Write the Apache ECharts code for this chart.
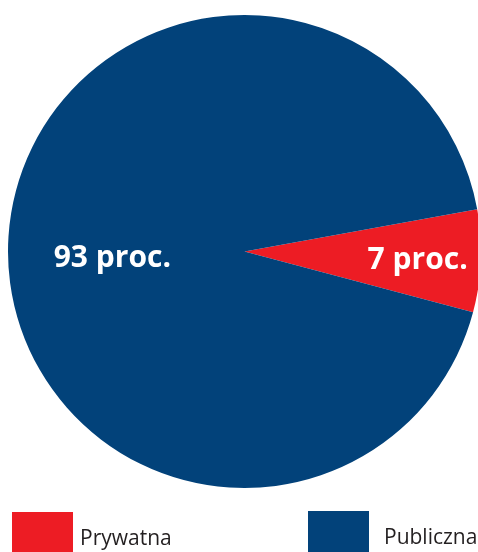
<!DOCTYPE html>
<html>
<head>
<meta charset="utf-8">
<script src="https://cdn.jsdelivr.net/npm/echarts@6/dist/echarts.min.js"></script>
<style>
  html, body { margin: 0; padding: 0; background: #ffffff; }
  #chart { width: 478px; height: 552px; }
</style>
</head>
<body>
<div id="chart"></div>
<script>
// Share of schools by type (percent)
const categories = ['Prywatna', 'Publiczna'];
const values = [7, 93];
const colors = ['#ed1c24', '#02427a'];
const labelSuffix = ' proc.';

const chart = echarts.init(document.getElementById('chart'), null, { renderer: 'canvas' });

const pieData = categories.map((name, i) => ({
  name: name,
  value: values[i],
  itemStyle: { color: colors[i] }
}));

// Shift the in-slice labels toward the rim of the small slice and left in the large one
const labelShift = [
  { dx: 52, dy: 4 },
  { dx: -11, dy: 12 }
];

// Legend text sits a little below the middle of its swatch
const legendText = (leftPad) => ({
  color: '#231f20',
  fontSize: 21,
  fontFamily: 'Open Sans',
  rich: {
    t: { color: '#231f20', fontSize: 21, fontFamily: 'Open Sans', padding: [14, 0, 0, leftPad] }
  }
});

chart.setOption({
  animation: false,
  backgroundColor: '#ffffff',
  legend: [
    {
      data: [categories[0]],
      left: 12,
      top: 512,
      icon: 'rect',
      itemWidth: 61,
      itemHeight: 40,
      itemGap: 0,
      padding: 0,
      selectedMode: false,
      formatter: n => '{t|' + n + '}',
      textStyle: legendText(2)
    },
    {
      data: [categories[1]],
      left: 308,
      top: 511,
      icon: 'rect',
      itemWidth: 61,
      itemHeight: 41,
      itemGap: 0,
      padding: 0,
      selectedMode: false,
      formatter: n => '{t|' + n + '}',
      textStyle: legendText(10)
    }
  ],
  series: [
    {
      type: 'pie',
      center: [244.5, 251.5],
      radius: [0, 236.5],
      startAngle: 10.3,
      clockwise: true,
      silent: true,
      avoidLabelOverlap: false,
      label: {
        show: true,
        position: 'inside',
        color: '#ffffff',
        fontFamily: 'Open Sans',
        fontWeight: 'bold',
        fontSize: 30,
        formatter: p => p.value + labelSuffix
      },
      labelLine: { show: false },
      labelLayout: p => labelShift[p.dataIndex],
      itemStyle: { borderWidth: 0 },
      data: pieData
    }
  ]
});
</script>
</body>
</html>
